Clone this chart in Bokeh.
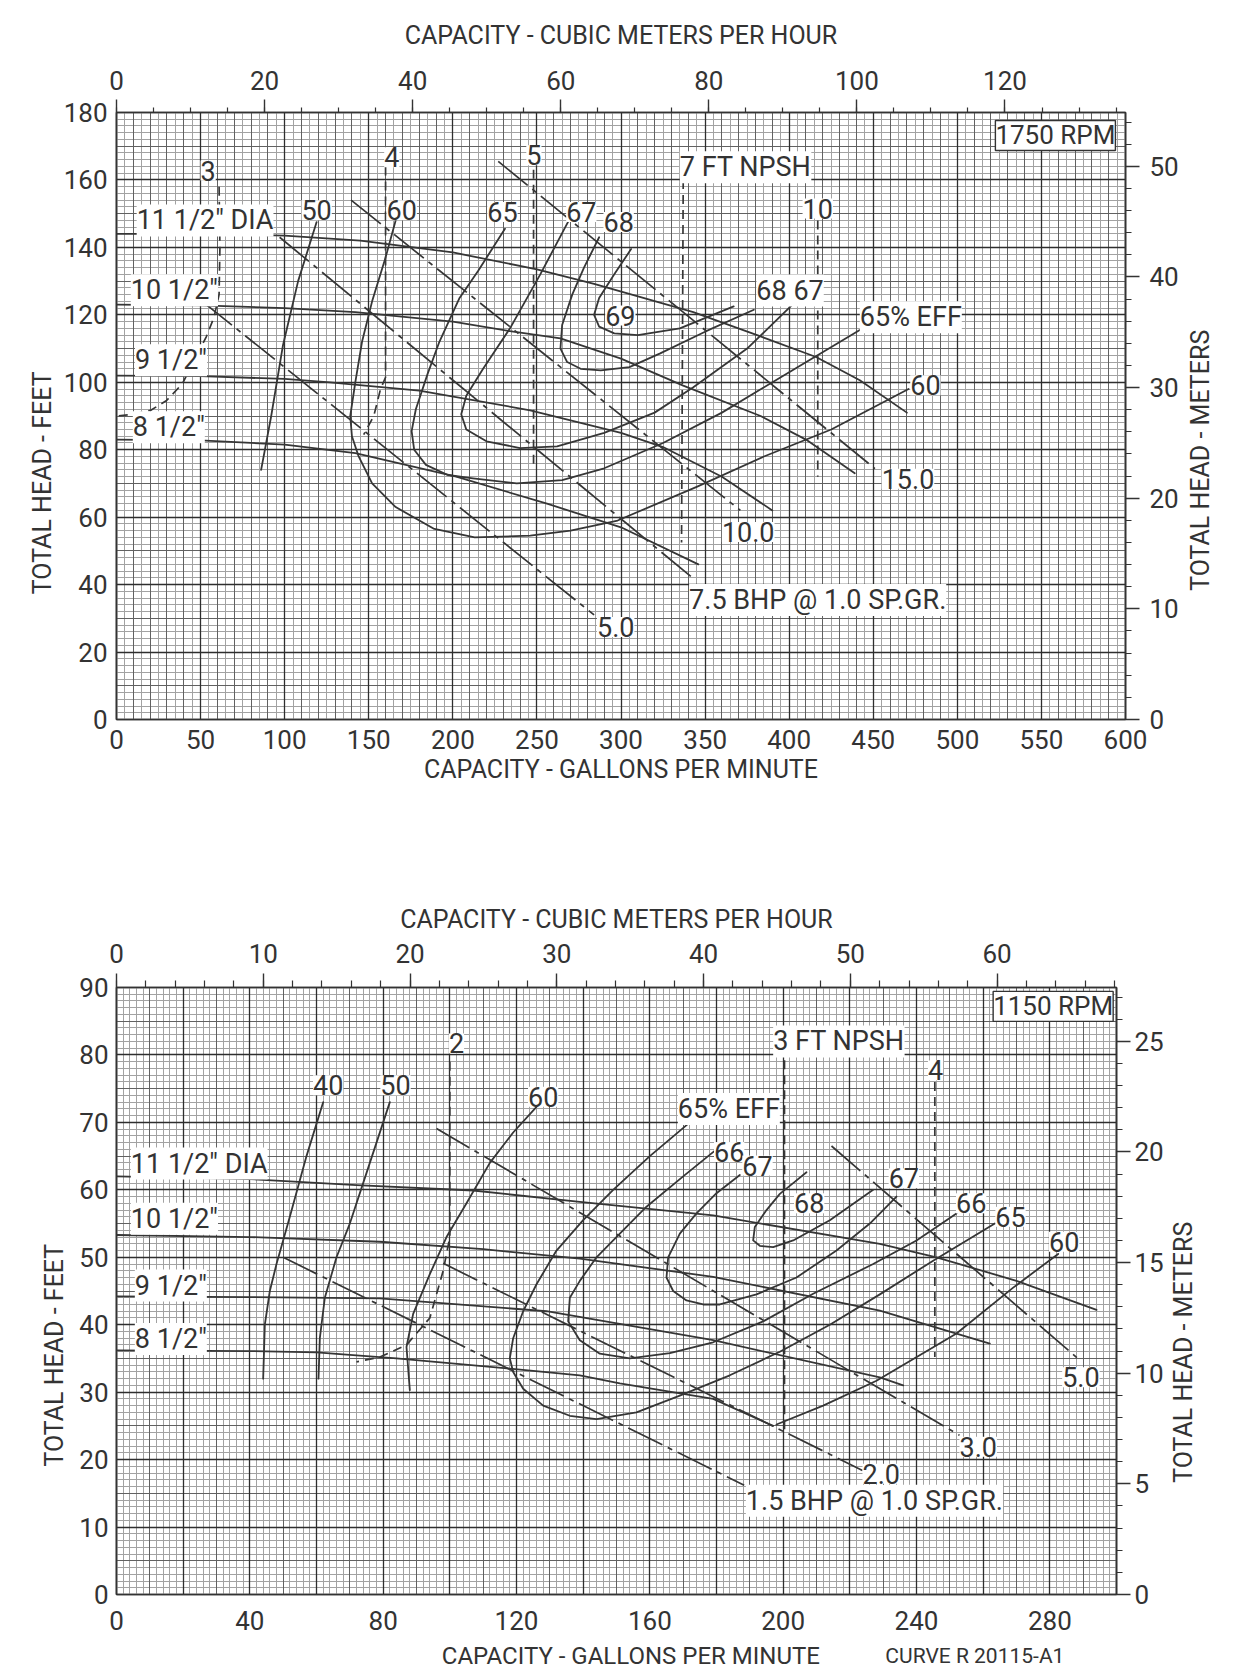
import math
from bokeh.plotting import figure
from bokeh.models import Range1d, LinearAxis, SingleIntervalTicker, Grid, Label
from bokeh.layouts import column, row
from bokeh.embed import file_html
from bokeh.resources import INLINE

# ====================== 1750 RPM (upper chart) ======================
# head-capacity curves (gpm, ft)
h1750_115_gpm = [0, 50, 100, 145, 200, 250, 284, 343, 383, 416, 442, 470]
h1750_115_ft = [144, 144, 143.5, 142, 138.5, 133.5, 129.2, 120.8, 113.6, 107.5, 100.6, 91]
h1750_105_gpm = [0, 50, 100, 142, 200, 236, 264, 300, 337, 383, 410, 439]
h1750_105_ft = [123, 122.8, 122, 120.8, 118, 115, 113, 107, 99, 90, 83, 73]
h1750_95_gpm = [0, 50, 100, 127, 180, 246, 300, 325, 360, 390]
h1750_95_ft = [102, 101.8, 101, 100, 97.5, 91.7, 85, 80.8, 72, 62]
h1750_85_gpm = [0, 50, 100, 142, 202, 256, 300, 346]
h1750_85_ft = [83, 82.8, 81.5, 79, 72, 64, 57, 46]

# brake horsepower lines
b1750_5_gpm, b1750_5_ft = [51, 284], [124, 31]
b1750_75_gpm, b1750_75_ft = [97, 343], [143, 41.8]
b1750_10_gpm, b1750_10_ft = [139.5, 371], [154, 62]
b1750_15_gpm, b1750_15_ft = [227, 451], [165.5, 74.4]

# NPSH lines
n1750_3_gpm = [61, 61.5, 61, 58, 53.3, 46.3, 39.2, 29.8, 20.4, 10, 0]
n1750_3_ft = [158, 140, 126, 119.3, 113.4, 106.5, 99.6, 94.6, 91.7, 90.5, 90]
n1750_4_gpm, n1750_4_ft = [160, 160, 157, 153, 147], [164, 101.5, 98, 90, 84.5]
n1750_5_gpm, n1750_5_ft = [248, 248], [163, 75]
n1750_7_gpm, n1750_7_ft = [337, 336], [160, 52.5]
n1750_10_gpm, n1750_10_ft = [417, 417], [148, 72]

# efficiency curves
e1750_50_gpm = [86, 92, 99, 108, 119]
e1750_50_ft = [74, 90, 111, 130, 147.5]
e1750_60_gpm = [166, 160, 152, 146, 142, 139, 140, 144, 152, 166, 189, 213, 246, 270, 298, 345, 385, 425, 471]
e1750_60_ft = [148, 137, 124, 112, 100, 90, 84, 78, 70, 63, 56.5, 54, 54.5, 56, 59, 69, 78, 86, 98]
e1750_65_gpm = [231, 215, 204, 192, 185, 178, 175.5, 177, 184, 197, 212, 238, 265, 290, 325, 360, 400, 442]
e1750_65_ft = [145.5, 133, 125, 112, 102.5, 92, 85.5, 80, 75.5, 72.5, 71.5, 70, 71, 74.5, 82, 91, 103, 115.5]
e1750_67_gpm = [269, 252, 234, 218, 208, 205, 208, 220, 240, 262, 290, 320, 343, 375, 405]
e1750_67_ft = [148, 132, 116, 104, 96, 90.5, 86, 82.5, 80.5, 81, 85, 91, 98.5, 110, 124.5]
e1750_68_gpm = [287, 278, 271, 265, 264, 268, 276, 288, 305, 323, 350, 379]
e1750_68_ft = [143, 134, 126, 117, 110, 106, 104, 103.5, 104.5, 108.5, 115, 121.5]
e1750_69_gpm = [306, 296, 287, 284, 287, 296, 310, 335, 367]
e1750_69_ft = [139.5, 132, 125, 120, 116.5, 114.5, 114, 116, 122.5]

# ====================== 1150 RPM (lower chart) ======================
h1150_115_gpm = [0, 40, 72, 107, 139, 179, 229, 246, 270, 294]
h1150_115_ft = [62, 61.6, 60.7, 59.9, 58.2, 56.2, 52, 50, 46.5, 42.2]
h1150_105_gpm = [0, 40, 79, 110, 139, 179, 229, 262]
h1150_105_ft = [53.3, 53, 52.3, 51.2, 49.8, 47.1, 42.1, 37.2]
h1150_95_gpm = [0, 40, 79, 129, 179, 229, 236]
h1150_95_ft = [44.2, 44.1, 43.9, 42, 37.7, 32.2, 31]
h1150_85_gpm = [0, 40, 60, 84, 118, 139, 151, 179, 197]
h1150_85_ft = [36.2, 36.1, 35.9, 35, 33.5, 32.5, 31.3, 29, 25]

b1150_15_gpm, b1150_15_ft = [50, 188.3], [50, 16.2]
b1150_2_gpm, b1150_2_ft = [98, 223.8], [49.1, 18.4]
b1150_3_gpm, b1150_3_ft = [96, 252.9], [69.1, 23.6]
b1150_5_gpm, b1150_5_ft = [214.5, 288.4], [66.5, 35]

n1150_2_gpm = [100, 100, 98, 94, 87, 79, 72]
n1150_2_ft = [79, 53, 48, 41, 37, 35.2, 34.5]
n1150_3_gpm, n1150_3_ft = [200.4, 200.4], [79.2, 24]
n1150_4_gpm, n1150_4_ft = [245.5, 245.5], [76, 35.2]

e1150_40_gpm = [44, 44.5, 46, 48, 52, 57, 62]
e1150_40_ft = [32, 40, 45, 49, 56, 65, 73]
e1150_50_gpm = [60.6, 61, 62.5, 66, 70, 76, 82]
e1150_50_ft = [32, 38, 44, 50, 55, 64, 73]
e1150_60a_gpm = [88, 87, 89, 94, 99, 105, 112, 119, 126]
e1150_60a_ft = [30.3, 36.7, 41.6, 47.5, 53, 58, 64, 68.5, 72.3]
e1150_60b_gpm = [198, 212, 228, 252, 269, 282.5]
e1150_60b_ft = [25.2, 28, 31.7, 38.7, 45.5, 50.5]
e1150_65_gpm = [172, 160, 149, 140, 132, 126, 122, 119, 118, 119, 122, 128, 136, 144, 156, 169, 184, 199, 214, 229, 245, 263.5]
e1150_65_ft = [70, 65, 60, 55.5, 51, 46, 42, 38, 35, 33, 30.5, 28, 26.5, 26, 27, 29.5, 32.5, 36, 40, 44.5, 49.5, 55]
e1150_66_gpm = [180, 170, 159, 151, 144, 139, 136, 135.5, 139, 145, 154, 166, 179, 194, 209, 227, 240, 252]
e1150_66_ft = [66, 62, 57.5, 53.5, 50, 46.5, 44, 40.5, 37.7, 35.7, 35, 35.8, 37.4, 40.5, 44.6, 49, 52.5, 56.5]
e1150_67_gpm = [187, 180, 174, 169, 165.5, 165, 167, 171, 176, 181, 192, 204, 216, 226, 234]
e1150_67_ft = [62.2, 59.5, 56.5, 53.5, 50, 47, 45, 43.6, 43, 43, 44.5, 47, 51, 55, 59]
e1150_68_gpm = [207, 203, 199, 195, 191.5, 191, 193, 197, 203, 214, 227]
e1150_68_ft = [62.6, 61, 59.4, 57, 54.5, 52.5, 51.7, 51.5, 52.5, 55.5, 60]

GPM_TO_M3H = 0.2271247
FT_TO_M = 0.3048

FONT = "Roboto"
INK = "#333333"
LINE = "#363636"
TICK_FS = "26px"
TITLE_FS = "25px"
FS = "27px"
BHP_DASH = "38 6 5 6"
NPSH_DASH = "9 6"
GRID_LIGHT = "#a2a2a2"
GRID_MED = "#616161"
GRID_DARK = "#2e2e2e"


def make_fig(width, height, xmax, ymax, bl, br, bt, bb):
    p = figure(width=width, height=height, x_range=Range1d(0, xmax), y_range=Range1d(0, ymax),
               output_backend="svg", toolbar_location=None,
               min_border_left=bl, min_border_right=br, min_border_top=bt, min_border_bottom=bb)
    p.xgrid.visible = False
    p.ygrid.visible = False
    p.outline_line_color = INK
    p.outline_line_width = 1.6
    p.background_fill_color = "white"
    p.border_fill_color = "white"
    p.extra_x_ranges = {"m3h": Range1d(0, xmax * GPM_TO_M3H)}
    p.extra_y_ranges = {"m": Range1d(0, ymax * FT_TO_M)}
    return p


def text_strip(width, height, xr=None, bl=0, br=0):
    s = figure(width=width, height=height,
               x_range=xr if xr is not None else Range1d(0, width), y_range=Range1d(0, height),
               output_backend="svg", toolbar_location=None,
               x_axis_location=None, y_axis_location=None,
               min_border_left=bl, min_border_right=br, min_border_top=0, min_border_bottom=0)
    s.outline_line_color = None
    s.background_fill_color = "white"
    s.border_fill_color = "white"
    s.xgrid.visible = False
    s.ygrid.visible = False
    return s


def add_grids(p, levels):
    for dim, interval, color, width in levels:
        g = Grid(dimension=dim, ticker=SingleIntervalTicker(interval=interval),
                 grid_line_color=color, grid_line_width=width)
        p.add_layout(g)


def style_axis(ax, interval, minors, tick_out, minor_out, lab_standoff, title=None, title_standoff=0):
    ax.ticker = SingleIntervalTicker(interval=interval, num_minor_ticks=minors)
    ax.major_tick_out = tick_out
    ax.major_tick_in = 0
    ax.minor_tick_out = minor_out
    ax.minor_tick_in = 0
    ax.major_tick_line_color = INK
    ax.minor_tick_line_color = INK
    ax.major_tick_line_width = 1.4
    ax.minor_tick_line_width = 1.2
    ax.axis_line_color = INK
    ax.axis_line_width = 1.6
    ax.major_label_text_font = FONT
    ax.major_label_text_font_size = TICK_FS
    ax.major_label_text_color = INK
    ax.major_label_standoff = lab_standoff
    if title:
        ax.axis_label = title
        ax.axis_label_text_font = FONT
        ax.axis_label_text_font_size = TITLE_FS
        ax.axis_label_text_font_style = "normal"
        ax.axis_label_text_color = INK
        ax.axis_label_standoff = title_standoff


def line(p, xs, ys, dash="solid", width=1.8):
    p.line(xs, ys, line_color=LINE, line_width=width, line_dash=dash,
           line_join="round", line_cap="round" if dash == "solid" else "butt")


def label(p, x, y, text, align="center", size=FS, box=False, bg=True, angle=0.0):
    lab = Label(x=x, y=y, text=text, text_align=align, text_baseline="middle", angle=angle,
                text_font=FONT, text_font_size=size, text_color=INK,
                background_fill_color="white" if bg else None, background_fill_alpha=1.0)
    if box:
        lab.border_line_color = INK
        lab.border_line_width = 1.4
    p.add_layout(lab)


# ---------------------------------------------------------------- upper chart (1750 RPM)
p1 = make_fig(1124, 808, 600, 180, 58, 57, 112, 89)
add_grids(p1, [(0, 5, GRID_LIGHT, 1), (1, 2, GRID_LIGHT, 1),
               (0, 10, GRID_MED, 1), (1, 10, GRID_MED, 1),
               (0, 50, GRID_DARK, 1.3), (1, 20, GRID_DARK, 1.3)])
style_axis(p1.xaxis[0], 50, 0, 0, 0, 10, "CAPACITY - GALLONS PER MINUTE", 3)
style_axis(p1.yaxis[0], 20, 0, 0, 0, 9)
top1 = LinearAxis(x_range_name="m3h")
style_axis(top1, 20, 4, 13, 5, 10, "CAPACITY - CUBIC METERS PER HOUR", 18)
p1.add_layout(top1, "above")
right1 = LinearAxis(y_range_name="m")
style_axis(right1, 10, 5, 14, 6, 10)
p1.add_layout(right1, "right")

for xs, ys in [(h1750_115_gpm, h1750_115_ft), (h1750_105_gpm, h1750_105_ft),
               (h1750_95_gpm, h1750_95_ft), (h1750_85_gpm, h1750_85_ft),
               (e1750_50_gpm, e1750_50_ft), (e1750_60_gpm, e1750_60_ft),
               (e1750_65_gpm, e1750_65_ft), (e1750_67_gpm, e1750_67_ft),
               (e1750_68_gpm, e1750_68_ft), (e1750_69_gpm, e1750_69_ft)]:
    line(p1, xs, ys)
for xs, ys in [(b1750_5_gpm, b1750_5_ft), (b1750_75_gpm, b1750_75_ft),
               (b1750_10_gpm, b1750_10_ft), (b1750_15_gpm, b1750_15_ft)]:
    line(p1, xs, ys, BHP_DASH, 1.7)
for xs, ys in [(n1750_3_gpm, n1750_3_ft), (n1750_4_gpm, n1750_4_ft), (n1750_5_gpm, n1750_5_ft),
               (n1750_7_gpm, n1750_7_ft), (n1750_10_gpm, n1750_10_ft)]:
    line(p1, xs, ys, NPSH_DASH, 1.7)

label(p1, 12, 148, '11 1/2" DIA', "left")
label(p1, 8.5, 127.3, '10 1/2"', "left")
label(p1, 11, 106.5, '9 1/2"', "left")
label(p1, 9.7, 86.7, '8 1/2"', "left")
label(p1, 54.5, 162.8, "3")
label(p1, 163.7, 166.7, "4")
label(p1, 248.2, 167.3, "5")
label(p1, 335, 163.8, "7 FT NPSH", "left")
label(p1, 417, 151.5, "10")
label(p1, 119, 151, "50")
label(p1, 169.6, 151, "60")
label(p1, 229.5, 150.5, "65")
label(p1, 276.4, 150.5, "67")
label(p1, 298.6, 147.5, "68")
label(p1, 299.6, 119.8, "69")
label(p1, 380.5, 127.2, "68 67", "left")
label(p1, 442, 119.3, "65% EFF", "left")
label(p1, 472, 99.1, "60", "left")
label(p1, 455, 71.4, "15.0", "left")
label(p1, 360, 55.6, "10.0", "left")
label(p1, 340.5, 35.4, "7.5 BHP @ 1.0 SP.GR.", "left")
label(p1, 285.7, 27.4, "5.0", "left")
label(p1, 594, 173.2, "1750 RPM", "right", size="26px", box=True)

l1 = text_strip(58, 808)
label(l1, 41.5, 315, "TOTAL HEAD - FEET", size=TITLE_FS, bg=False, angle=math.pi / 2)
r1 = text_strip(51, 808)
label(r1, 18, 345, "TOTAL HEAD - METERS", size=TITLE_FS, bg=False, angle=math.pi / 2)

# ---------------------------------------------------------------- lower chart (1150 RPM)
p2 = make_fig(1096, 832, 300, 90, 46, 48, 179, 46)
add_grids(p2, [(0, 2, GRID_LIGHT, 1), (1, 1, GRID_LIGHT, 1),
               (0, 10, GRID_MED, 1), (1, 5, GRID_MED, 1),
               (0, 20, GRID_DARK, 1.3), (1, 10, GRID_DARK, 1.3)])
style_axis(p2.xaxis[0], 40, 0, 0, 0, 16)
style_axis(p2.yaxis[0], 10, 0, 0, 0, 8)
top2 = LinearAxis(x_range_name="m3h")
style_axis(top2, 10, 5, 14, 7, 11, "CAPACITY - CUBIC METERS PER HOUR", 7)
p2.add_layout(top2, "above")
right2 = LinearAxis(y_range_name="m")
style_axis(right2, 5, 5, 14, 6, 4)
p2.add_layout(right2, "right")

for xs, ys in [(h1150_115_gpm, h1150_115_ft), (h1150_105_gpm, h1150_105_ft),
               (h1150_95_gpm, h1150_95_ft), (h1150_85_gpm, h1150_85_ft),
               (e1150_40_gpm, e1150_40_ft), (e1150_50_gpm, e1150_50_ft),
               (e1150_60a_gpm, e1150_60a_ft), (e1150_60b_gpm, e1150_60b_ft),
               (e1150_65_gpm, e1150_65_ft), (e1150_66_gpm, e1150_66_ft),
               (e1150_67_gpm, e1150_67_ft), (e1150_68_gpm, e1150_68_ft)]:
    line(p2, xs, ys)
for xs, ys in [(b1150_15_gpm, b1150_15_ft), (b1150_2_gpm, b1150_2_ft),
               (b1150_3_gpm, b1150_3_ft), (b1150_5_gpm, b1150_5_ft)]:
    line(p2, xs, ys, BHP_DASH, 1.7)
for xs, ys in [(n1150_2_gpm, n1150_2_ft), (n1150_3_gpm, n1150_3_ft), (n1150_4_gpm, n1150_4_ft)]:
    line(p2, xs, ys, NPSH_DASH, 1.7)

label(p2, 4.3, 63.9, '11 1/2" DIA', "left")
label(p2, 4.3, 55.7, '10 1/2"', "left")
label(p2, 5.5, 45.8, '9 1/2"', "left")
label(p2, 5.5, 37.9, '8 1/2"', "left")
label(p2, 63.5, 75.5, "40")
label(p2, 83.7, 75.5, "50")
label(p2, 102, 81.7, "2")
label(p2, 128, 73.8, "60")
label(p2, 168.4, 72, "65% EFF", "left")
label(p2, 183.8, 65.6, "66")
label(p2, 192.3, 63.6, "67")
label(p2, 207.8, 58, "68")
label(p2, 236.2, 61.7, "67")
label(p2, 256.4, 58, "66")
label(p2, 268.2, 56, "65")
label(p2, 284.3, 52.3, "60")
label(p2, 283.7, 32.2, "5.0", "left")
label(p2, 252.9, 21.9, "3.0", "left")
label(p2, 223.8, 17.9, "2.0", "left")
label(p2, 188.8, 13.9, "1.5 BHP @ 1.0 SP.GR.", "left")
label(p2, 299, 87.2, "1150 RPM", "right", size="26px", box=True)
label(p2, 197, 82, "3 FT NPSH", "left")
label(p2, 245.7, 77.7, "4")

l2 = text_strip(70, 832)
label(l2, 54.3, 328, "TOTAL HEAD - FEET", size=TITLE_FS, bg=False, angle=math.pi / 2)
r2 = text_strip(67, 832)
label(r2, 17.4, 332, "TOTAL HEAD - METERS", size=TITLE_FS, bg=False, angle=math.pi / 2)

# caption line under the lower chart (shares the lower chart's gpm scale)
p3 = text_strip(1233, 30, xr=Range1d(0, 300), bl=116, br=115)
p3.y_range = Range1d(0, 1)
label(p3, 154, 0.5, "CAPACITY - GALLONS PER MINUTE", "center", size="24px", bg=False)
label(p3, 230.2, 0.5, "CURVE R 20115-A1", "left", size="21px", bg=False)

layout = column(row(l1, p1, r1), row(l2, p2, r2), p3)
open("out.html", "w").write(file_html(layout, INLINE))
